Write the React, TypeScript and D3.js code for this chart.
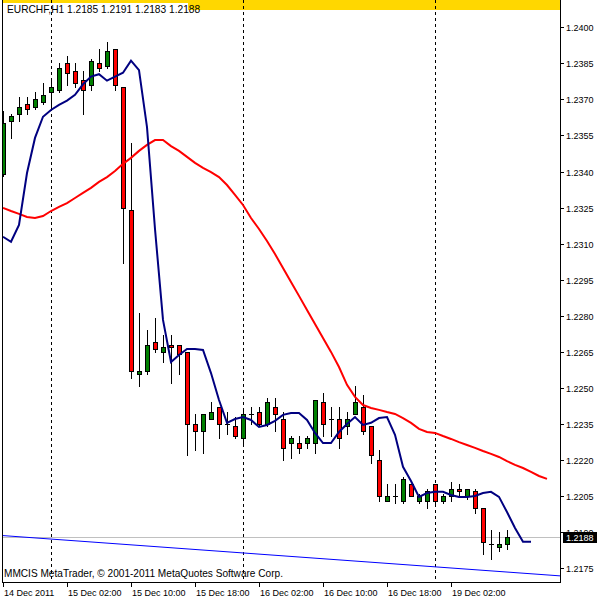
import React from 'react';
import * as d3 from 'd3';

// ---- Data (EURCHF, H1) ----
const opens = [1.2339,1.2361,1.2364,1.2368,1.2367,1.2369,1.2373,1.2374,1.2385,1.2382,1.2378,1.2376,1.2385,1.2384,1.2391,1.2375,1.2324,1.2256,1.2257,1.2269,1.2265,1.2268,1.2268,1.2265,1.2235,1.2232,1.2237,1.2242,1.2235,1.2234,1.2229,1.2239,1.2240,1.2235,1.2242,1.2237,1.2227,1.2227,1.2227,1.2227,1.2244,1.2237,1.2237,1.2234,1.2239,1.2242,1.2234,1.2220,1.2203,1.2205,1.2203,1.2210,1.2203,1.2203,1.2210,1.2203,1.2205,1.2208,1.2205,1.2207,1.2200,1.2185,1.2184,1.2185];
const highs = [1.2365,1.2364,1.2371,1.2371,1.2373,1.2377,1.2378,1.2385,1.2388,1.2385,1.2382,1.2387,1.2391,1.2394,1.2391,1.2375,1.2352,1.2281,1.2274,1.2279,1.2272,1.2272,1.2268,1.2265,1.2239,1.2239,1.2244,1.2242,1.2240,1.2238,1.2241,1.2242,1.2242,1.2246,1.2246,1.2240,1.2230,1.2230,1.2230,1.2245,1.2248,1.2242,1.2242,1.2240,1.2251,1.2247,1.2234,1.2224,1.2210,1.2210,1.2213,1.2210,1.2206,1.2208,1.2210,1.2206,1.2211,1.2210,1.2208,1.2208,1.2200,1.2191,1.2190,1.2191];
const lows = [1.2338,1.2354,1.2361,1.2364,1.2366,1.2368,1.2367,1.2373,1.2376,1.2375,1.2364,1.2374,1.2382,1.2383,1.2374,1.2302,1.2254,1.2251,1.2256,1.2265,1.2261,1.2252,1.2256,1.2222,1.2224,1.2223,1.2237,1.2229,1.2231,1.2229,1.2227,1.2235,1.2234,1.2234,1.2232,1.2220,1.2221,1.2223,1.2225,1.2223,1.2230,1.2230,1.2225,1.2231,1.2239,1.2231,1.2219,1.2203,1.2203,1.2202,1.2202,1.2205,1.2202,1.2200,1.2202,1.2202,1.2203,1.2205,1.2204,1.2198,1.2181,1.2179,1.2182,1.2183];
const closes = [1.2360,1.2363,1.2367,1.2366,1.2370,1.2372,1.2375,1.2383,1.2381,1.2377,1.2374,1.2386,1.2383,1.2390,1.2376,1.2325,1.2257,1.2257,1.2268,1.2266,1.2267,1.2267,1.2264,1.2235,1.2232,1.2239,1.2240,1.2235,1.2235,1.2230,1.2239,1.2239,1.2235,1.2244,1.2239,1.2225,1.2229,1.2225,1.2229,1.2245,1.2235,1.2237,1.2229,1.2237,1.2244,1.2232,1.2222,1.2205,1.2205,1.2205,1.2212,1.2205,1.2205,1.2207,1.2203,1.2205,1.2208,1.2207,1.2208,1.2200,1.2186,1.2185,1.2185,1.2188];

// Fast moving average (navy), drawn shifted forward, one value per bar slot from bar 0
const fastMA = [1.23129,1.23108,1.23178,1.23394,1.23540,1.23628,1.23656,1.23677,1.23695,1.23719,1.23763,1.23795,1.23805,1.23778,1.23795,1.23811,1.23861,1.23822,1.23585,1.23161,1.22783,1.22608,1.22637,1.22662,1.22662,1.22658,1.22562,1.22450,1.22355,1.22371,1.22379,1.22367,1.22338,1.22346,1.22363,1.22388,1.22396,1.22396,1.22367,1.22313,1.22271,1.22271,1.22317,1.22350,1.22379,1.22346,1.22355,1.22375,1.22379,1.22305,1.22172,1.22113,1.22047,1.22063,1.22068,1.22068,1.22055,1.22047,1.22047,1.22051,1.22063,1.22068,1.22047,1.21984,1.21918,1.21860,1.21860];
// Slow moving average (red)
const slowMA = [1.23249,1.23236,1.23224,1.23211,1.23207,1.23215,1.23236,1.23253,1.23269,1.23290,1.23311,1.23332,1.23357,1.23377,1.23402,1.23432,1.23457,1.23486,1.23511,1.23531,1.23531,1.23506,1.23486,1.23461,1.23436,1.23415,1.23398,1.23377,1.23344,1.23303,1.23261,1.23207,1.23161,1.23111,1.23057,1.22999,1.22941,1.22883,1.22824,1.22766,1.22708,1.22650,1.22587,1.22513,1.22463,1.22429,1.22417,1.22409,1.22400,1.22392,1.22375,1.22355,1.22330,1.22317,1.22313,1.22300,1.22288,1.22275,1.22263,1.22251,1.22238,1.22226,1.22213,1.22196,1.22180,1.22167,1.22151,1.22134,1.22122];

const trendBars = [0, 69];
const trendPrices = [1.21886, 1.21720];

const timeLabelBars = [0, 8, 16, 24, 32, 40, 48, 56];
const timeLabels = ['14 Dec 2011', '15 Dec 02:00', '15 Dec 10:00', '15 Dec 18:00', '16 Dec 02:00', '16 Dec 10:00', '16 Dec 18:00', '19 Dec 02:00'];
const daySeparatorBars = [6, 30, 54];
const priceTickLabels = ['1.2175','1.2190','1.2205','1.2220','1.2235','1.2250','1.2265','1.2280','1.2295','1.2310','1.2325','1.2340','1.2355','1.2370','1.2385','1.2400'];
const lastPrice = 1.2188;
const headerText = 'EURCHF,H1  1.2185 1.2191 1.2183 1.2188';
const copyrightText = 'MMCIS MetaTrader, \u00A9 2001-2011 MetaQuotes Software Corp.';

const FONT = 'Liberation Sans, Arial, sans-serif';

export default function App() {
  const plotLeft = 2, plotRight = 560, plotTop = 0, plotBottom = 582;
  const x = d3.scaleLinear().domain([0, 1]).range([3, 11]);
  const y = d3.scaleLinear().domain([1.2175, 1.2400]).range([568.3, 27.3]);

  const fastLine = d3.line<number>().x((_, i) => x(i)).y(d => y(d));
  const slowLine = d3.line<number>().x((_, i) => x(i)).y(d => y(d));

  // trend line extended across plot
  const tSlope = (trendPrices[1] - trendPrices[0]) / (trendBars[1] - trendBars[0]);
  const xi0 = x.invert(plotLeft), xi1 = x.invert(plotRight);
  const tY0 = y(trendPrices[0] + (xi0 - trendBars[0]) * tSlope);
  const tY1 = y(trendPrices[0] + (xi1 - trendBars[0]) * tSlope);

  const candles = opens.map((o, i) => {
    const c = closes[i];
    const cx = Math.round(x(i));
    const yo = Math.round(y(o));
    const yc = Math.round(y(c));
    const yh = Math.round(y(highs[i]));
    const yl = Math.round(y(lows[i]));
    const top = Math.min(yo, yc), bot = Math.max(yo, yc);
    const bull = c > o;
    return (
      <g key={i}>
        <line x1={cx + 0.5} x2={cx + 0.5} y1={yh} y2={yl + 1} stroke="#000" strokeWidth={1} />
        {bot - top < 1 ? (
          <line x1={cx - 2} x2={cx + 3} y1={top + 0.5} y2={top + 0.5} stroke="#000" strokeWidth={1} />
        ) : (
          <rect x={cx - 1.5} y={top + 0.5} width={4} height={bot - top}
            fill={bull ? '#008000' : '#ff0000'} stroke="#000" strokeWidth={1} />
        )}
      </g>
    );
  });

  const lastY = y(lastPrice);

  return (
    <svg width={600} height={600} style={{ position: 'absolute', left: 0, top: 0, background: '#fff' }}
      fontFamily={FONT}>
      <rect x={0} y={0} width={600} height={600} fill="#fff" />
      <defs>
        <clipPath id="plot">
          <rect x={plotLeft} y={plotTop} width={plotRight - plotLeft} height={plotBottom - plotTop} />
        </clipPath>
      </defs>
      {/* top yellow bar */}
      <rect x={plotLeft} y={0} width={plotRight - plotLeft} height={10} fill="#ffd700" />
      <rect x={plotLeft} y={3} width={186} height={12} fill="#fff" />
      {/* day separators */}
      {daySeparatorBars.map(b => (
        <line key={b} x1={Math.round(x(b)) + 0.5} x2={Math.round(x(b)) + 0.5} y1={0} y2={plotBottom}
          stroke="#000" strokeWidth={1} strokeDasharray="3,3" />
      ))}
      <g clipPath="url(#plot)">
        {/* price line */}
        <line x1={plotLeft} x2={plotRight} y1={Math.round(lastY) + 0.5} y2={Math.round(lastY) + 0.5} stroke="#c0c0c0" strokeWidth={1} />
        {/* trend line */}
        <line x1={plotLeft} x2={plotRight} y1={tY0} y2={tY1} stroke="#0000ff" strokeWidth={1} />
        {candles}
        <path d={slowLine(slowMA) || ''} fill="none" stroke="#ff0000" strokeWidth={2} />
        <path d={fastLine(fastMA) || ''} fill="none" stroke="#000080" strokeWidth={2} />
      </g>
      {/* header */}
      <text x={7} y={13} fontSize={10.2} fill="#000">{headerText}</text>
      <text x={4} y={577} fontSize={10.1} fill="#000">{copyrightText}</text>
      {/* frame */}
      <line x1={plotLeft + 0.5} x2={plotLeft + 0.5} y1={0} y2={plotBottom} stroke="#000" />
      <line x1={plotRight + 0.5} x2={plotRight + 0.5} y1={0} y2={plotBottom + 1} stroke="#000" />
      <line x1={plotLeft} x2={plotRight + 1} y1={plotBottom + 0.5} y2={plotBottom + 0.5} stroke="#000" />
      {/* y axis */}
      {priceTickLabels.map(t => {
        const ty = Math.round(y(+t));
        return (
          <g key={t}>
            <line x1={plotRight + 1} x2={plotRight + 4} y1={ty + 0.5} y2={ty + 0.5} stroke="#000" />
            <text x={566} y={ty + 3.5} fontSize={9} fill="#000">{t}</text>
          </g>
        );
      })}
      {/* last price label */}
      <rect x={563} y={Math.round(lastY) - 5} width={34} height={11} fill="#000" />
      <text x={566} y={Math.round(lastY) + 4} fontSize={9} fill="#fff">{lastPrice.toFixed(4)}</text>
      {/* x axis */}
      {timeLabelBars.map((b, i) => {
        const tx = Math.round(x(b));
        return (
          <g key={b}>
            <line x1={tx + 0.5} x2={tx + 0.5} y1={plotBottom} y2={plotBottom + 5} stroke="#000" />
            <text x={tx + 1} y={596} fontSize={9} fill="#000">{timeLabels[i]}</text>
          </g>
        );
      })}
    </svg>
  );
}
